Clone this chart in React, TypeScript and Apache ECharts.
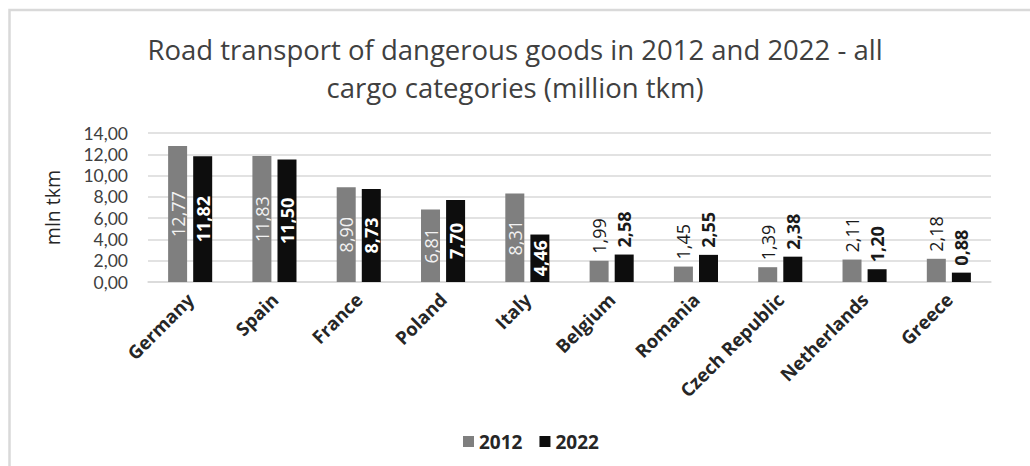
import React, { useEffect, useRef } from "react";
import * as echarts from "echarts";

const categories = ["Germany", "Spain", "France", "Poland", "Italy", "Belgium", "Romania", "Czech Republic", "Netherlands", "Greece"];
const values2012 = [12.77, 11.83, 8.9, 6.81, 8.31, 1.99, 1.45, 1.39, 2.11, 2.18];
const values2022 = [11.82, 11.5, 8.73, 7.7, 4.46, 2.58, 2.55, 2.38, 1.2, 0.88];
const seriesNames = ["2012", "2022"];
const titleText = "Road transport of dangerous goods in 2012 and 2022 - all\ncargo categories (million tkm)";

const FONT = "'Open Sans', 'Noto Sans', sans-serif";
const TICK_FONT = "Lato, 'Open Sans', sans-serif";
const fmt = (v: number) => v.toFixed(2).replace(".", ",");

function mkData(vals: number[], insideColor: string, bold: boolean) {
  return vals.map((v) => {
    const inside = v > 4;
    return {
      value: v,
      label: {
        show: true,
        position: inside ? "inside" : "top",
        rotate: 90,
        align: inside ? "center" : "left",
        verticalAlign: "middle",
        distance: 7,
        color: inside ? insideColor : "#1a1a1a",
        fontSize: 18,
        fontWeight: bold ? "bold" : "normal",
        fontFamily: FONT,
        formatter: () => fmt(v),
      },
    };
  });
}

export default function App() {
  const ref = useRef<HTMLDivElement>(null);
  useEffect(() => {
    if (!ref.current) return;
    const chart = echarts.init(ref.current, undefined, { renderer: "svg" });
    chart.setOption({
      animation: false,
      backgroundColor: "#ffffff",
      title: {
        text: titleText,
        left: "center",
        top: 25,
        textStyle: { fontSize: 27.5, fontWeight: "normal", color: "#404040", fontFamily: FONT, lineHeight: 38 },
      },
      graphic: [
        {
          type: "rect",
          shape: { x: 9.5, y: 10, width: 1040, height: 480 },
          style: { fill: "none", stroke: "#d9d9d9", lineWidth: 2.5 },
        },
      ],
      legend: {
        data: seriesNames,
        top: 427,
        left: 458,
        itemWidth: 11,
        itemHeight: 11,
        itemGap: 17,
        icon: "rect",
        textStyle: { fontSize: 19, fontWeight: "bold", color: "#262626", fontFamily: FONT },
      },
      grid: { left: 148, right: 39, top: 133, bottom: 184 },
      xAxis: {
        type: "category",
        data: categories,
        axisTick: { show: false },
        axisLine: { lineStyle: { color: "#d9d9d9", width: 1.5 } },
        axisLabel: {
          rotate: 45,
          interval: 0,
          margin: 14,
          padding: [20, 0, 0, 0],
          fontSize: 18.5,
          fontWeight: "bold",
          color: "#262626",
          fontFamily: FONT,
        },
      },
      yAxis: {
        type: "value",
        min: 0,
        max: 14,
        interval: 2,
        name: "mln tkm",
        nameLocation: "middle",
        nameGap: 86,
        nameTextStyle: { fontSize: 19.5, color: "#262626", fontFamily: FONT },
        axisLine: { show: false },
        axisTick: { show: false },
        splitLine: { lineStyle: { color: "#d9d9d9", width: 1.5 } },
        axisLabel: { formatter: (v: number) => fmt(v), fontSize: 17.5, lineHeight: 18, color: "#404040", fontFamily: TICK_FONT, margin: 20 },
      },
      series: [
        {
          name: seriesNames[0],
          type: "bar",
          barWidth: 19,
          barGap: "32%",
          itemStyle: { color: "#7f7f7f" },
          data: mkData(values2012, "#f2f2f2", false),
        },
        {
          name: seriesNames[1],
          type: "bar",
          barWidth: 19,
          itemStyle: { color: "#0d0d0d" },
          data: mkData(values2022, "#ffffff", true),
        },
      ],
    });
    return () => chart.dispose();
  }, []);
  return <div ref={ref} style={{ position: "absolute", left: 0, top: 0, width: 1030, height: 466 }} />;
}
